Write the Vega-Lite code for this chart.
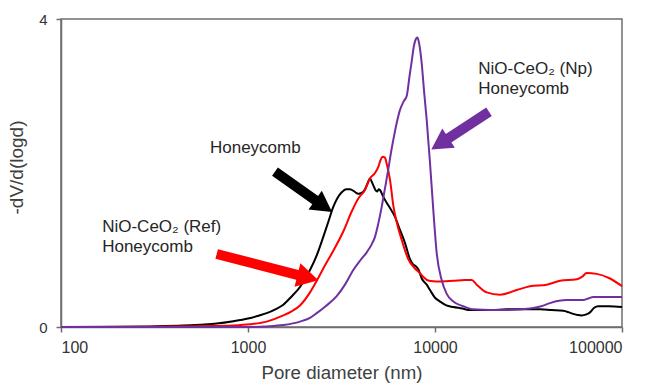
{
  "$schema": "https://vega.github.io/schema/vega-lite/v6.json",
  "width": 561,
  "height": 308,
  "autosize": {"type": "none"},
  "padding": {"left": 61, "top": 19, "right": 27, "bottom": 57},
  "background": "white",
  "config": {
    "view": {"stroke": "#6e6e6e", "strokeWidth": 1.5},
    "axis": {
      "grid": false,
      "domainColor": "#6e6e6e",
      "domainWidth": 1.5,
      "tickColor": "#6e6e6e",
      "tickWidth": 1.5,
      "tickSize": 5,
      "labelColor": "#333333",
      "titleColor": "#404040",
      "labelFont": "Liberation Sans, Arial",
      "titleFont": "Liberation Sans, Arial",
      "titleFontWeight": "normal"
    }
  },
  "datasets": {
    "curves": [
      {"d": 100, "v": 0, "s": "Honeycomb"},
      {"d": 200, "v": 0.003, "s": "Honeycomb"},
      {"d": 300, "v": 0.008, "s": "Honeycomb"},
      {"d": 450, "v": 0.018, "s": "Honeycomb"},
      {"d": 554, "v": 0.03, "s": "Honeycomb"},
      {"d": 680, "v": 0.045, "s": "Honeycomb"},
      {"d": 835, "v": 0.075, "s": "Honeycomb"},
      {"d": 1000, "v": 0.11, "s": "Honeycomb"},
      {"d": 1150, "v": 0.15, "s": "Honeycomb"},
      {"d": 1259, "v": 0.18, "s": "Honeycomb"},
      {"d": 1400, "v": 0.23, "s": "Honeycomb"},
      {"d": 1545, "v": 0.29, "s": "Honeycomb"},
      {"d": 1700, "v": 0.39, "s": "Honeycomb"},
      {"d": 1897, "v": 0.52, "s": "Honeycomb"},
      {"d": 2146, "v": 0.74, "s": "Honeycomb"},
      {"d": 2331, "v": 0.93, "s": "Honeycomb"},
      {"d": 2527, "v": 1.17, "s": "Honeycomb"},
      {"d": 2700, "v": 1.38, "s": "Honeycomb"},
      {"d": 2858, "v": 1.56, "s": "Honeycomb"},
      {"d": 3000, "v": 1.67, "s": "Honeycomb"},
      {"d": 3170, "v": 1.75, "s": "Honeycomb"},
      {"d": 3350, "v": 1.79, "s": "Honeycomb"},
      {"d": 3512, "v": 1.79, "s": "Honeycomb"},
      {"d": 3700, "v": 1.76, "s": "Honeycomb"},
      {"d": 3889, "v": 1.73, "s": "Honeycomb"},
      {"d": 4050, "v": 1.74, "s": "Honeycomb"},
      {"d": 4224, "v": 1.79, "s": "Honeycomb"},
      {"d": 4350, "v": 1.86, "s": "Honeycomb"},
      {"d": 4492, "v": 1.93, "s": "Honeycomb"},
      {"d": 4600, "v": 1.88, "s": "Honeycomb"},
      {"d": 4679, "v": 1.84, "s": "Honeycomb"},
      {"d": 4800, "v": 1.78, "s": "Honeycomb"},
      {"d": 4913, "v": 1.76, "s": "Honeycomb"},
      {"d": 5000, "v": 1.79, "s": "Honeycomb"},
      {"d": 5080, "v": 1.78, "s": "Honeycomb"},
      {"d": 5291, "v": 1.69, "s": "Honeycomb"},
      {"d": 5628, "v": 1.58, "s": "Honeycomb"},
      {"d": 6111, "v": 1.43, "s": "Honeycomb"},
      {"d": 6500, "v": 1.26, "s": "Honeycomb"},
      {"d": 6913, "v": 1.09, "s": "Honeycomb"},
      {"d": 7350, "v": 0.88, "s": "Honeycomb"},
      {"d": 7656, "v": 0.81, "s": "Honeycomb"},
      {"d": 7900, "v": 0.79, "s": "Honeycomb"},
      {"d": 8142, "v": 0.75, "s": "Honeycomb"},
      {"d": 8491, "v": 0.63, "s": "Honeycomb"},
      {"d": 9028, "v": 0.55, "s": "Honeycomb"},
      {"d": 9404, "v": 0.48, "s": "Honeycomb"},
      {"d": 10000, "v": 0.38, "s": "Honeycomb"},
      {"d": 10644, "v": 0.33, "s": "Honeycomb"},
      {"d": 11500, "v": 0.28, "s": "Honeycomb"},
      {"d": 12529, "v": 0.26, "s": "Honeycomb"},
      {"d": 14000, "v": 0.24, "s": "Honeycomb"},
      {"d": 15389, "v": 0.22, "s": "Honeycomb"},
      {"d": 20000, "v": 0.22, "s": "Honeycomb"},
      {"d": 24175, "v": 0.23, "s": "Honeycomb"},
      {"d": 30000, "v": 0.23, "s": "Honeycomb"},
      {"d": 36434, "v": 0.23, "s": "Honeycomb"},
      {"d": 42000, "v": 0.22, "s": "Honeycomb"},
      {"d": 48548, "v": 0.21, "s": "Honeycomb"},
      {"d": 52000, "v": 0.19, "s": "Honeycomb"},
      {"d": 54887, "v": 0.17, "s": "Honeycomb"},
      {"d": 58000, "v": 0.155, "s": "Honeycomb"},
      {"d": 60878, "v": 0.15, "s": "Honeycomb"},
      {"d": 64000, "v": 0.16, "s": "Honeycomb"},
      {"d": 67444, "v": 0.19, "s": "Honeycomb"},
      {"d": 71000, "v": 0.25, "s": "Honeycomb"},
      {"d": 74695, "v": 0.27, "s": "Honeycomb"},
      {"d": 85000, "v": 0.27, "s": "Honeycomb"},
      {"d": 100000, "v": 0.26, "s": "Honeycomb"},

      {"d": 100, "v": 0, "s": "NiO-CeO2 (Ref) Honeycomb"},
      {"d": 300, "v": 0.004, "s": "NiO-CeO2 (Ref) Honeycomb"},
      {"d": 554, "v": 0.01, "s": "NiO-CeO2 (Ref) Honeycomb"},
      {"d": 835, "v": 0.02, "s": "NiO-CeO2 (Ref) Honeycomb"},
      {"d": 1025, "v": 0.035, "s": "NiO-CeO2 (Ref) Honeycomb"},
      {"d": 1259, "v": 0.07, "s": "NiO-CeO2 (Ref) Honeycomb"},
      {"d": 1545, "v": 0.15, "s": "NiO-CeO2 (Ref) Honeycomb"},
      {"d": 1700, "v": 0.2, "s": "NiO-CeO2 (Ref) Honeycomb"},
      {"d": 1897, "v": 0.28, "s": "NiO-CeO2 (Ref) Honeycomb"},
      {"d": 2146, "v": 0.45, "s": "NiO-CeO2 (Ref) Honeycomb"},
      {"d": 2331, "v": 0.6, "s": "NiO-CeO2 (Ref) Honeycomb"},
      {"d": 2527, "v": 0.76, "s": "NiO-CeO2 (Ref) Honeycomb"},
      {"d": 2858, "v": 0.99, "s": "NiO-CeO2 (Ref) Honeycomb"},
      {"d": 3233, "v": 1.24, "s": "NiO-CeO2 (Ref) Honeycomb"},
      {"d": 3585, "v": 1.5, "s": "NiO-CeO2 (Ref) Honeycomb"},
      {"d": 3889, "v": 1.67, "s": "NiO-CeO2 (Ref) Honeycomb"},
      {"d": 4224, "v": 1.78, "s": "NiO-CeO2 (Ref) Honeycomb"},
      {"d": 4492, "v": 1.93, "s": "NiO-CeO2 (Ref) Honeycomb"},
      {"d": 4777, "v": 2.0, "s": "NiO-CeO2 (Ref) Honeycomb"},
      {"d": 4975, "v": 2.08, "s": "NiO-CeO2 (Ref) Honeycomb"},
      {"d": 5100, "v": 2.16, "s": "NiO-CeO2 (Ref) Honeycomb"},
      {"d": 5252, "v": 2.21, "s": "NiO-CeO2 (Ref) Honeycomb"},
      {"d": 5400, "v": 2.2, "s": "NiO-CeO2 (Ref) Honeycomb"},
      {"d": 5517, "v": 2.12, "s": "NiO-CeO2 (Ref) Honeycomb"},
      {"d": 5747, "v": 1.91, "s": "NiO-CeO2 (Ref) Honeycomb"},
      {"d": 5984, "v": 1.58, "s": "NiO-CeO2 (Ref) Honeycomb"},
      {"d": 6240, "v": 1.36, "s": "NiO-CeO2 (Ref) Honeycomb"},
      {"d": 6638, "v": 1.13, "s": "NiO-CeO2 (Ref) Honeycomb"},
      {"d": 7198, "v": 0.88, "s": "NiO-CeO2 (Ref) Honeycomb"},
      {"d": 7817, "v": 0.76, "s": "NiO-CeO2 (Ref) Honeycomb"},
      {"d": 8315, "v": 0.7, "s": "NiO-CeO2 (Ref) Honeycomb"},
      {"d": 8660, "v": 0.65, "s": "NiO-CeO2 (Ref) Honeycomb"},
      {"d": 9300, "v": 0.6, "s": "NiO-CeO2 (Ref) Honeycomb"},
      {"d": 10212, "v": 0.59, "s": "NiO-CeO2 (Ref) Honeycomb"},
      {"d": 12529, "v": 0.6, "s": "NiO-CeO2 (Ref) Honeycomb"},
      {"d": 14500, "v": 0.61, "s": "NiO-CeO2 (Ref) Honeycomb"},
      {"d": 15715, "v": 0.61, "s": "NiO-CeO2 (Ref) Honeycomb"},
      {"d": 16711, "v": 0.55, "s": "NiO-CeO2 (Ref) Honeycomb"},
      {"d": 18899, "v": 0.45, "s": "NiO-CeO2 (Ref) Honeycomb"},
      {"d": 22269, "v": 0.42, "s": "NiO-CeO2 (Ref) Honeycomb"},
      {"d": 27352, "v": 0.48, "s": "NiO-CeO2 (Ref) Honeycomb"},
      {"d": 32215, "v": 0.53, "s": "NiO-CeO2 (Ref) Honeycomb"},
      {"d": 39573, "v": 0.55, "s": "NiO-CeO2 (Ref) Honeycomb"},
      {"d": 46609, "v": 0.6, "s": "NiO-CeO2 (Ref) Honeycomb"},
      {"d": 57256, "v": 0.62, "s": "NiO-CeO2 (Ref) Honeycomb"},
      {"d": 61000, "v": 0.65, "s": "NiO-CeO2 (Ref) Honeycomb"},
      {"d": 64747, "v": 0.7, "s": "NiO-CeO2 (Ref) Honeycomb"},
      {"d": 73233, "v": 0.69, "s": "NiO-CeO2 (Ref) Honeycomb"},
      {"d": 86275, "v": 0.63, "s": "NiO-CeO2 (Ref) Honeycomb"},
      {"d": 100000, "v": 0.53, "s": "NiO-CeO2 (Ref) Honeycomb"},

      {"d": 100, "v": 0, "s": "NiO-CeO2 (Np) Honeycomb"},
      {"d": 1025, "v": 0.0, "s": "NiO-CeO2 (Np) Honeycomb"},
      {"d": 1259, "v": 0.008, "s": "NiO-CeO2 (Np) Honeycomb"},
      {"d": 1545, "v": 0.025, "s": "NiO-CeO2 (Np) Honeycomb"},
      {"d": 1897, "v": 0.07, "s": "NiO-CeO2 (Np) Honeycomb"},
      {"d": 2146, "v": 0.12, "s": "NiO-CeO2 (Np) Honeycomb"},
      {"d": 2331, "v": 0.18, "s": "NiO-CeO2 (Np) Honeycomb"},
      {"d": 2600, "v": 0.27, "s": "NiO-CeO2 (Np) Honeycomb"},
      {"d": 2981, "v": 0.4, "s": "NiO-CeO2 (Np) Honeycomb"},
      {"d": 3300, "v": 0.55, "s": "NiO-CeO2 (Np) Honeycomb"},
      {"d": 3657, "v": 0.74, "s": "NiO-CeO2 (Np) Honeycomb"},
      {"d": 4000, "v": 0.87, "s": "NiO-CeO2 (Np) Honeycomb"},
      {"d": 4313, "v": 0.97, "s": "NiO-CeO2 (Np) Honeycomb"},
      {"d": 4600, "v": 1.08, "s": "NiO-CeO2 (Np) Honeycomb"},
      {"d": 4777, "v": 1.17, "s": "NiO-CeO2 (Np) Honeycomb"},
      {"d": 4950, "v": 1.32, "s": "NiO-CeO2 (Np) Honeycomb"},
      {"d": 5188, "v": 1.56, "s": "NiO-CeO2 (Np) Honeycomb"},
      {"d": 5400, "v": 1.8, "s": "NiO-CeO2 (Np) Honeycomb"},
      {"d": 5628, "v": 2.05, "s": "NiO-CeO2 (Np) Honeycomb"},
      {"d": 5800, "v": 2.25, "s": "NiO-CeO2 (Np) Honeycomb"},
      {"d": 5984, "v": 2.43, "s": "NiO-CeO2 (Np) Honeycomb"},
      {"d": 6240, "v": 2.65, "s": "NiO-CeO2 (Np) Honeycomb"},
      {"d": 6500, "v": 2.82, "s": "NiO-CeO2 (Np) Honeycomb"},
      {"d": 6800, "v": 2.93, "s": "NiO-CeO2 (Np) Honeycomb"},
      {"d": 7058, "v": 3.0, "s": "NiO-CeO2 (Np) Honeycomb"},
      {"d": 7300, "v": 3.25, "s": "NiO-CeO2 (Np) Honeycomb"},
      {"d": 7506, "v": 3.45, "s": "NiO-CeO2 (Np) Honeycomb"},
      {"d": 7700, "v": 3.64, "s": "NiO-CeO2 (Np) Honeycomb"},
      {"d": 7900, "v": 3.74, "s": "NiO-CeO2 (Np) Honeycomb"},
      {"d": 8050, "v": 3.76, "s": "NiO-CeO2 (Np) Honeycomb"},
      {"d": 8200, "v": 3.7, "s": "NiO-CeO2 (Np) Honeycomb"},
      {"d": 8350, "v": 3.58, "s": "NiO-CeO2 (Np) Honeycomb"},
      {"d": 8491, "v": 3.42, "s": "NiO-CeO2 (Np) Honeycomb"},
      {"d": 8750, "v": 3.05, "s": "NiO-CeO2 (Np) Honeycomb"},
      {"d": 9028, "v": 2.69, "s": "NiO-CeO2 (Np) Honeycomb"},
      {"d": 9404, "v": 2.13, "s": "NiO-CeO2 (Np) Honeycomb"},
      {"d": 9793, "v": 1.52, "s": "NiO-CeO2 (Np) Honeycomb"},
      {"d": 10212, "v": 0.96, "s": "NiO-CeO2 (Np) Honeycomb"},
      {"d": 10859, "v": 0.61, "s": "NiO-CeO2 (Np) Honeycomb"},
      {"d": 11551, "v": 0.43, "s": "NiO-CeO2 (Np) Honeycomb"},
      {"d": 12529, "v": 0.33, "s": "NiO-CeO2 (Np) Honeycomb"},
      {"d": 14170, "v": 0.27, "s": "NiO-CeO2 (Np) Honeycomb"},
      {"d": 16026, "v": 0.23, "s": "NiO-CeO2 (Np) Honeycomb"},
      {"d": 20000, "v": 0.22, "s": "NiO-CeO2 (Np) Honeycomb"},
      {"d": 24175, "v": 0.22, "s": "NiO-CeO2 (Np) Honeycomb"},
      {"d": 32215, "v": 0.24, "s": "NiO-CeO2 (Np) Honeycomb"},
      {"d": 37000, "v": 0.27, "s": "NiO-CeO2 (Np) Honeycomb"},
      {"d": 41210, "v": 0.31, "s": "NiO-CeO2 (Np) Honeycomb"},
      {"d": 46000, "v": 0.34, "s": "NiO-CeO2 (Np) Honeycomb"},
      {"d": 50615, "v": 0.35, "s": "NiO-CeO2 (Np) Honeycomb"},
      {"d": 62095, "v": 0.35, "s": "NiO-CeO2 (Np) Honeycomb"},
      {"d": 66000, "v": 0.37, "s": "NiO-CeO2 (Np) Honeycomb"},
      {"d": 70243, "v": 0.39, "s": "NiO-CeO2 (Np) Honeycomb"},
      {"d": 80000, "v": 0.39, "s": "NiO-CeO2 (Np) Honeycomb"},
      {"d": 100000, "v": 0.39, "s": "NiO-CeO2 (Np) Honeycomb"}
    ],
    "arrows": [
      {"s": "Honeycomb", "d1": 1394, "v1": 2.017, "d2": 2508, "v2": 1.579},
      {"s": "NiO-CeO2 (Ref) Honeycomb", "d1": 680, "v1": 0.948, "d2": 2063, "v2": 0.645},
      {"s": "NiO-CeO2 (Np) Honeycomb", "d1": 19446, "v1": 2.796, "d2": 10753, "v2": 2.386}
    ],
    "labels": [
      {"t": "Honeycomb", "d": 626, "v": 2.266},
      {"t": "NiO-CeO₂ (Ref)", "d": 166, "v": 1.238},
      {"t": "Honeycomb", "d": 166, "v": 0.974},
      {"t": "NiO-CeO₂ (Np)", "d": 17044, "v": 3.286},
      {"t": "Honeycomb", "d": 17044, "v": 3.026}
    ]
  },
  "layer": [
    {
      "data": {"name": "curves"},
      "mark": {"type": "line", "strokeWidth": 2, "interpolate": "monotone"},
      "encoding": {
        "x": {
          "field": "d", "type": "quantitative",
          "scale": {"type": "log", "domain": [100, 100000], "nice": false},
          "axis": {
            "values": [100, 1000, 10000, 100000], "format": "d",
            "title": "Pore diameter (nm)", "titleFontSize": 18.7,
            "labelFontSize": 16, "labelPadding": 7,
            "titleY": 51, "titleBaseline": "alphabetic"
          }
        },
        "y": {
          "field": "v", "type": "quantitative",
          "scale": {"domain": [0, 4], "nice": false},
          "axis": {
            "values": [0, 4], "format": "d", "title": "-dV/d(logd)", "titleFontSize": 19,
            "labelFontSize": 15, "labelPadding": 9,
            "titleX": -45, "titleY": 148, "titleAngle": 270,
            "titleBaseline": "middle", "titleAlign": "center"
          }
        },
        "color": {
          "field": "s", "type": "nominal",
          "scale": {
            "domain": ["Honeycomb", "NiO-CeO2 (Ref) Honeycomb", "NiO-CeO2 (Np) Honeycomb"],
            "range": ["#000000", "#ff0000", "#7030a0"]
          },
          "legend": null
        }
      }
    },
    {
      "data": {"name": "arrows"},
      "mark": {"type": "rule", "strokeWidth": 10, "strokeCap": "butt"},
      "encoding": {
        "x": {"field": "d1", "type": "quantitative"},
        "y": {"field": "v1", "type": "quantitative"},
        "x2": {"field": "d2"},
        "y2": {"field": "v2"},
        "color": {"field": "s", "type": "nominal", "legend": null}
      }
    },
    {
      "data": {"name": "arrows"},
      "transform": [{"filter": "datum.s === 'Honeycomb'"}],
      "mark": {"type": "point", "shape": "M 1 0 L -0.8 -1 L -0.8 1 Z", "filled": true, "opacity": 1, "size": 529, "angle": 35.2, "strokeWidth": 0},
      "encoding": {
        "x": {"field": "d2", "type": "quantitative"},
        "y": {"field": "v2", "type": "quantitative"},
        "color": {"field": "s", "type": "nominal", "legend": null}
      }
    },
    {
      "data": {"name": "arrows"},
      "transform": [{"filter": "datum.s === 'NiO-CeO2 (Ref) Honeycomb'"}],
      "mark": {"type": "point", "shape": "M 1 0 L -0.8 -1 L -0.8 1 Z", "filled": true, "opacity": 1, "size": 576, "angle": 14, "strokeWidth": 0},
      "encoding": {
        "x": {"field": "d2", "type": "quantitative"},
        "y": {"field": "v2", "type": "quantitative"},
        "color": {"field": "s", "type": "nominal", "legend": null}
      }
    },
    {
      "data": {"name": "arrows"},
      "transform": [{"filter": "datum.s === 'NiO-CeO2 (Np) Honeycomb'"}],
      "mark": {"type": "point", "shape": "M 1 0 L -0.8 -1 L -0.8 1 Z", "filled": true, "opacity": 1, "size": 529, "angle": 146.7, "strokeWidth": 0},
      "encoding": {
        "x": {"field": "d2", "type": "quantitative"},
        "y": {"field": "v2", "type": "quantitative"},
        "color": {"field": "s", "type": "nominal", "legend": null}
      }
    },
    {
      "data": {"name": "labels"},
      "mark": {"type": "text", "align": "left", "baseline": "alphabetic", "fontSize": 17, "font": "Liberation Sans, Arial", "color": "#262626"},
      "encoding": {
        "x": {"field": "d", "type": "quantitative"},
        "y": {"field": "v", "type": "quantitative"},
        "text": {"field": "t"}
      }
    }
  ]
}
